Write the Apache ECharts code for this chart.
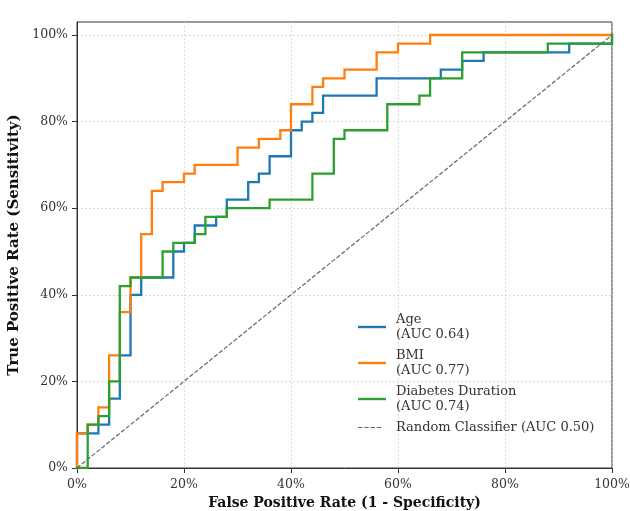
<!DOCTYPE html>
<html>
<head>
<meta charset="utf-8">
<script src="https://cdn.jsdelivr.net/npm/echarts@6/dist/echarts.min.js"></script>
<style>html,body{margin:0;padding:0;background:#fff}#c{width:630px;height:511px}</style>
</head>
<body>
<div id="c"></div>
<script>
// Tick values (percent)
const xTicks = [0, 20, 40, 60, 80, 100];
const yTicks = [0, 20, 40, 60, 80, 100];

// Age ROC (FPR %, TPR %)
const ageFpr = [0,0,4,4,6,6,8,8,10,10,12,12,18,18,20,20,22,22,26,26,28,28,32,32,34,34,36,36,40,40,42,42,44,44,46,46,56,56,68,68,72,72,76,76,92,92,100,100];
const ageTpr = [0,8,8,10,10,16,16,26,26,40,40,44,44,50,50,52,52,56,56,58,58,62,62,66,66,68,68,72,72,78,78,80,80,82,82,86,86,90,90,92,92,94,94,96,96,98,98,100];

// BMI ROC
const bmiFpr = [0,0,2,2,4,4,6,6,8,8,10,10,12,12,14,14,16,16,20,20,22,22,30,30,34,34,38,38,40,40,44,44,46,46,50,50,56,56,60,60,66,66,100];
const bmiTpr = [0,8,8,10,10,14,14,26,26,36,36,44,44,54,54,64,64,66,66,68,68,70,70,74,74,76,76,78,78,84,84,88,88,90,90,92,92,96,96,98,98,100,100];

// Diabetes Duration ROC
const durFpr = [0,2,2,4,4,6,6,8,8,10,10,16,16,18,18,22,22,24,24,28,28,36,36,44,44,48,48,50,50,58,58,64,64,66,66,72,72,88,88,100,100];
const durTpr = [0,0,10,10,12,12,20,20,42,42,44,44,50,50,52,52,54,54,58,58,60,60,62,62,68,68,76,76,78,78,84,84,86,86,90,90,96,96,98,98,100];

// Random classifier diagonal
const randFpr = [0, 100];
const randTpr = [0, 100];

const seriesNames = ['Age\n(AUC 0.64)', 'BMI\n(AUC 0.77)', 'Diabetes Duration\n(AUC 0.74)', 'Random Classifier (AUC 0.50)'];
const seriesColors = ['#1f77b4', '#ff7f0e', '#2ca02c', '#666666'];

const zip = (a, b) => a.map((v, i) => [v, b[i]]);
const font = 'DejaVu Serif';

// legend glyphs: a solid bar and a dashed bar (same bounding box)
const solidIcon = 'path://M0,0L28,0L28,2.4L0,2.4Z';
const dashedIcon = 'path://M0,0L0.01,0L0.01,2.4L0,2.4Z' +
  'M0,0.6L4.4,0.6L4.4,1.8L0,1.8Z M6.3,0.6L10.7,0.6L10.7,1.8L6.3,1.8Z' +
  'M12.6,0.6L17,0.6L17,1.8L12.6,1.8Z M18.9,0.6L23.3,0.6L23.3,1.8L18.9,1.8Z M27.99,0L28,0L28,2.4L27.99,2.4Z';

const chart = echarts.init(document.getElementById('c'), null, {renderer: 'canvas'});
const stepSeries = (i, xs, ys) => ({
  name: seriesNames[i], type: 'line', data: zip(xs, ys), symbol: 'none',
  lineStyle: {color: seriesColors[i], width: 2.3, cap: 'square', join: 'miter'},
  itemStyle: {color: seriesColors[i]}, z: 2 + i
});

chart.setOption({
  animation: false,
  backgroundColor: '#fff',
  grid: {left: 77, right: 18, top: 22, bottom: 43, show: true, borderColor: '#333', borderWidth: 1,
         backgroundColor: 'transparent', containLabel: false, outerBoundsMode: 'none'},
  xAxis: {
    type: 'value', min: 0, max: 100, interval: 20,
    name: 'False Positive Rate (1 - Specificity)', nameLocation: 'middle', nameGap: 28,
    nameTextStyle: {fontFamily: font, fontWeight: 'bold', fontSize: 14, color: '#111'},
    axisLine: {show: true, lineStyle: {color: '#333', width: 1}},
    axisTick: {show: true, length: 5, lineStyle: {color: '#333'}, customValues: xTicks},
    axisLabel: {fontFamily: font, fontSize: 12.5, color: '#333', margin: 10, formatter: v => v + '%', customValues: xTicks},
    splitLine: {show: true, lineStyle: {color: '#d0d0d0', type: [1.5, 2.5], width: 1}}
  },
  yAxis: {
    type: 'value', min: 0, max: 103, interval: 20,
    name: 'True Positive Rate (Sensitivity)', nameLocation: 'middle', nameGap: 46, nameRotate: 90,
    nameTextStyle: {fontFamily: font, fontWeight: 'bold', fontSize: 15, color: '#111'},
    axisLine: {show: true, lineStyle: {color: '#333', width: 1}},
    axisTick: {show: true, length: 5, lineStyle: {color: '#333'}, customValues: yTicks},
    axisLabel: {fontFamily: font, fontSize: 12.5, color: '#333', margin: 9, formatter: v => v + '%', customValues: yTicks},
    splitLine: {show: true, lineStyle: {color: '#d0d0d0', type: [1.5, 2.5], width: 1}}
  },
  legend: {
    orient: 'vertical', left: 353, top: 307, itemGap: 6, itemWidth: 28, itemHeight: 2.4,
    data: [
      {name: seriesNames[0], icon: solidIcon},
      {name: seriesNames[1], icon: solidIcon},
      {name: seriesNames[2], icon: solidIcon},
      {name: seriesNames[3], icon: dashedIcon}
    ],
    textStyle: {fontFamily: font, fontSize: 13, color: '#333', lineHeight: 15, padding: [0, 0, 0, 5]}
  },
  series: [
    stepSeries(0, ageFpr, ageTpr),
    stepSeries(1, bmiFpr, bmiTpr),
    stepSeries(2, durFpr, durTpr),
    {name: seriesNames[3], type: 'line', data: zip(randFpr, randTpr), symbol: 'none', z: 6,
     lineStyle: {color: '#666', width: 1.2, type: [4.4, 1.9]}, itemStyle: {color: '#666'}}
  ]
});
</script>
</body>
</html>
